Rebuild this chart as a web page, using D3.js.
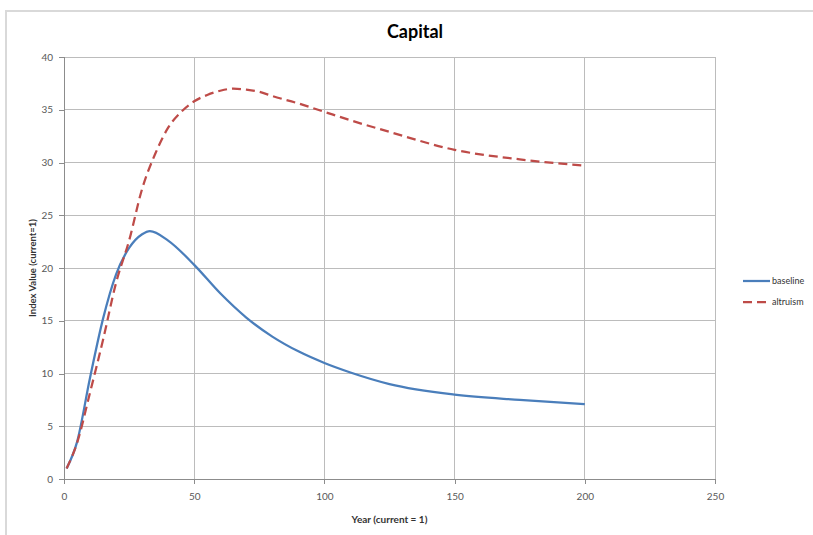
<!DOCTYPE html>
<html><head><meta charset="utf-8">
<script src="https://cdn.jsdelivr.net/npm/d3@7"></script>
<style>
body{margin:0;background:#fff;}
svg{display:block;font-family:Lato,"Open Sans",sans-serif;}
</style></head>
<body><svg id="c" width="813" height="535"></svg>
<script>
const baselineYears = [1,5,10,15,20,25,30,33,40,50,60,70,80,90,100,110,125,150,175,200];
const baselineValues = [1.0,3.5,9.6,15.2,19.4,21.9,23.2,23.5,22.6,20.3,17.6,15.3,13.5,12.1,11.0,10.1,9.0,8.0,7.5,7.1];
const altruismYears = [1,5,10,15,20,25,30,35,40,45,50,55,60,65,70,75,80,90,100,110,125,150,175,200];
const altruismValues = [1.0,3.4,8.2,13.2,18.6,22.6,27.5,30.8,33.3,34.8,35.8,36.4,36.8,37.0,36.9,36.7,36.3,35.6,34.8,34.0,32.9,31.2,30.3,29.7];
const xTicks = [0,50,100,150,200,250];
const yTicks = [0,5,10,15,20,25,30,35,40];
const seriesNames = ["baseline","altruism"];
const seriesColors = ["#4a7ebb","#be4b48"];

const svg = d3.select("#c");
svg.append("rect").attr("x",6).attr("y",11).attr("width",820).attr("height",540)
  .attr("fill","none").attr("stroke","#d9d9d9").attr("stroke-width",2);

const x = d3.scaleLinear().domain([0,250]).range([64,715]);
const y = d3.scaleLinear().domain([0,40]).range([479,57]);

// gridlines
svg.append("g").selectAll("line").data(yTicks.filter(d=>d>0)).join("line")
  .attr("x1",x(0)).attr("x2",x(250)).attr("y1",d=>y(d)).attr("y2",d=>y(d))
  .attr("stroke","#bcbcbc").attr("stroke-width",1).attr("shape-rendering","crispEdges");
svg.append("g").selectAll("line").data(xTicks.filter(d=>d>0)).join("line")
  .attr("x1",d=>x(d)).attr("x2",d=>x(d)).attr("y1",y(0)).attr("y2",y(40))
  .attr("stroke","#bcbcbc").attr("stroke-width",1).attr("shape-rendering","crispEdges");

const yAxis = svg.append("g").attr("transform",`translate(${x(0)},0)`)
  .call(d3.axisLeft(y).tickValues(yTicks).tickSize(5).tickPadding(6));
const xAxis = svg.append("g").attr("transform",`translate(0,${y(0)})`)
  .call(d3.axisBottom(x).tickValues(xTicks).tickSize(5).tickPadding(9));
[yAxis,xAxis].forEach(g=>{
  g.selectAll("path,line").attr("stroke","#8c8c8c").attr("shape-rendering","crispEdges");
  g.selectAll("text").attr("fill","#595959").attr("font-size",10).attr("font-family","Lato,'Open Sans',sans-serif");
});

const line = d3.line().x(d=>x(d[0])).y(d=>y(d[1])).curve(d3.curveMonotoneX);
svg.append("path").datum(baselineYears.map((yr,i)=>[yr,baselineValues[i]]))
  .attr("d",line).attr("fill","none").attr("stroke",seriesColors[0]).attr("stroke-width",2.25);
svg.append("path").datum(altruismYears.map((yr,i)=>[yr,altruismValues[i]]))
  .attr("d",line).attr("fill","none").attr("stroke",seriesColors[1]).attr("stroke-width",2.25)
  .attr("stroke-dasharray","9,5");

svg.append("text").attr("x",415).attr("y",38).attr("text-anchor","middle")
  .attr("font-size",18).attr("font-weight","bold").attr("fill","#000").text("Capital");
svg.append("text").attr("transform",`translate(36,${(y(0)+y(40))/2}) rotate(-90)`)
  .attr("text-anchor","middle").attr("font-size",9.5).attr("font-weight","bold").attr("fill","#333")
  .text("Index Value (current=1)");
svg.append("text").attr("x",(x(0)+x(250))/2).attr("y",523).attr("text-anchor","middle")
  .attr("font-size",10).attr("font-weight","bold").attr("fill","#333").text("Year (current = 1)");

const leg = svg.append("g").selectAll("g").data(seriesNames).join("g")
  .attr("transform",(d,i)=>`translate(743,${281+i*21})`);
leg.append("line").attr("x1",0).attr("x2",27).attr("y1",0).attr("y2",0)
  .attr("stroke",(d,i)=>seriesColors[i]).attr("stroke-width",2.25)
  .attr("stroke-dasharray",(d,i)=>i===1?"9,5":null);
leg.append("text").attr("x",29).attr("y",3).attr("font-size",9).attr("fill","#333").text(d=>d);
</script></body></html>
